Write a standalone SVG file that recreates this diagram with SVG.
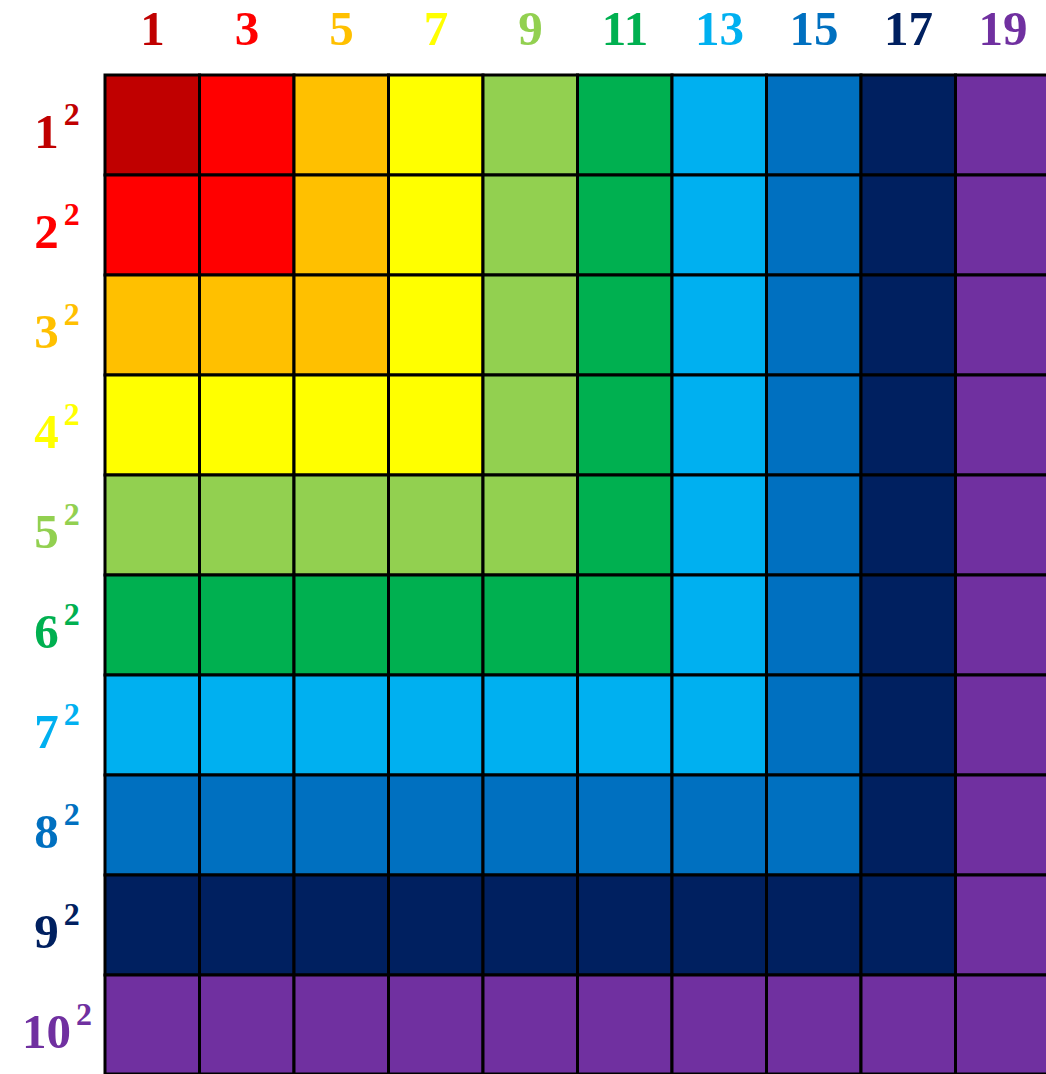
<svg xmlns="http://www.w3.org/2000/svg" width="1046" height="1074" viewBox="0 0 1046 1074">
<style>
text{font-family:"Liberation Serif","DejaVu Serif",serif;font-weight:bold;font-size:49px;text-anchor:middle}
.s{font-size:32px}
.c rect{stroke:#000;stroke-width:3}
.k1{fill:#C00000}.k2{fill:#FF0000}.k3{fill:#FFC000}.k4{fill:#FFFF00}.k5{fill:#92D050}
.k6{fill:#00B050}.k7{fill:#00B0F0}.k8{fill:#0070C0}.k9{fill:#002060}.k10{fill:#7030A0}
</style>
<rect width="1046" height="1074" fill="#fff"/>
<g id="header">
<text id="h1" class="k1" x="152.5" y="45">1</text>
<text id="h3" class="k2" x="247" y="45">3</text>
<text id="h5" class="k3" x="341.5" y="45">5</text>
<text id="h7" class="k4" x="436" y="45">7</text>
<text id="h9" class="k5" x="530.5" y="45">9</text>
<text id="h11" class="k6" x="625" y="45">11</text>
<text id="h13" class="k7" x="719.5" y="45">13</text>
<text id="h15" class="k8" x="814" y="45">15</text>
<text id="h17" class="k9" x="908.5" y="45">17</text>
<text id="h19" class="k10" x="1003" y="45">19</text>
</g>
<g id="rows">
<text id="r1" class="k1" x="57" y="148">1<tspan class="s" dx="5" dy="-23">2</tspan></text>
<text id="r2" class="k2" x="57" y="248">2<tspan class="s" dx="5" dy="-23">2</tspan></text>
<text id="r3" class="k3" x="57" y="348">3<tspan class="s" dx="5" dy="-23">2</tspan></text>
<text id="r4" class="k4" x="57" y="448">4<tspan class="s" dx="5" dy="-23">2</tspan></text>
<text id="r5" class="k5" x="57" y="548">5<tspan class="s" dx="5" dy="-23">2</tspan></text>
<text id="r6" class="k6" x="57" y="648">6<tspan class="s" dx="5" dy="-23">2</tspan></text>
<text id="r7" class="k7" x="57" y="748">7<tspan class="s" dx="5" dy="-23">2</tspan></text>
<text id="r8" class="k8" x="57" y="848">8<tspan class="s" dx="5" dy="-23">2</tspan></text>
<text id="r9" class="k9" x="57" y="948">9<tspan class="s" dx="5" dy="-23">2</tspan></text>
<text id="r10" class="k10" x="57" y="1048">10<tspan class="s" dx="5" dy="-23">2</tspan></text>
</g>
<g id="grid" class="c">
<rect class="k1" x="105" y="75" width="94.5" height="100"/>
<rect class="k2" x="199.5" y="75" width="94.5" height="100"/>
<rect class="k3" x="294" y="75" width="94.5" height="100"/>
<rect class="k4" x="388.5" y="75" width="94.5" height="100"/>
<rect class="k5" x="483" y="75" width="94.5" height="100"/>
<rect class="k6" x="577.5" y="75" width="94.5" height="100"/>
<rect class="k7" x="672" y="75" width="94.5" height="100"/>
<rect class="k8" x="766.5" y="75" width="94.5" height="100"/>
<rect class="k9" x="861" y="75" width="94.5" height="100"/>
<rect class="k10" x="955.5" y="75" width="94.5" height="100"/>

<rect class="k2" x="105" y="175" width="94.5" height="100"/>
<rect class="k2" x="199.5" y="175" width="94.5" height="100"/>
<rect class="k3" x="294" y="175" width="94.5" height="100"/>
<rect class="k4" x="388.5" y="175" width="94.5" height="100"/>
<rect class="k5" x="483" y="175" width="94.5" height="100"/>
<rect class="k6" x="577.5" y="175" width="94.5" height="100"/>
<rect class="k7" x="672" y="175" width="94.5" height="100"/>
<rect class="k8" x="766.5" y="175" width="94.5" height="100"/>
<rect class="k9" x="861" y="175" width="94.5" height="100"/>
<rect class="k10" x="955.5" y="175" width="94.5" height="100"/>

<rect class="k3" x="105" y="275" width="94.5" height="100"/>
<rect class="k3" x="199.5" y="275" width="94.5" height="100"/>
<rect class="k3" x="294" y="275" width="94.5" height="100"/>
<rect class="k4" x="388.5" y="275" width="94.5" height="100"/>
<rect class="k5" x="483" y="275" width="94.5" height="100"/>
<rect class="k6" x="577.5" y="275" width="94.5" height="100"/>
<rect class="k7" x="672" y="275" width="94.5" height="100"/>
<rect class="k8" x="766.5" y="275" width="94.5" height="100"/>
<rect class="k9" x="861" y="275" width="94.5" height="100"/>
<rect class="k10" x="955.5" y="275" width="94.5" height="100"/>

<rect class="k4" x="105" y="375" width="94.5" height="100"/>
<rect class="k4" x="199.5" y="375" width="94.5" height="100"/>
<rect class="k4" x="294" y="375" width="94.5" height="100"/>
<rect class="k4" x="388.5" y="375" width="94.5" height="100"/>
<rect class="k5" x="483" y="375" width="94.5" height="100"/>
<rect class="k6" x="577.5" y="375" width="94.5" height="100"/>
<rect class="k7" x="672" y="375" width="94.5" height="100"/>
<rect class="k8" x="766.5" y="375" width="94.5" height="100"/>
<rect class="k9" x="861" y="375" width="94.5" height="100"/>
<rect class="k10" x="955.5" y="375" width="94.5" height="100"/>

<rect class="k5" x="105" y="475" width="94.5" height="100"/>
<rect class="k5" x="199.5" y="475" width="94.5" height="100"/>
<rect class="k5" x="294" y="475" width="94.5" height="100"/>
<rect class="k5" x="388.5" y="475" width="94.5" height="100"/>
<rect class="k5" x="483" y="475" width="94.5" height="100"/>
<rect class="k6" x="577.5" y="475" width="94.5" height="100"/>
<rect class="k7" x="672" y="475" width="94.5" height="100"/>
<rect class="k8" x="766.5" y="475" width="94.5" height="100"/>
<rect class="k9" x="861" y="475" width="94.5" height="100"/>
<rect class="k10" x="955.5" y="475" width="94.5" height="100"/>

<rect class="k6" x="105" y="575" width="94.5" height="100"/>
<rect class="k6" x="199.5" y="575" width="94.5" height="100"/>
<rect class="k6" x="294" y="575" width="94.5" height="100"/>
<rect class="k6" x="388.5" y="575" width="94.5" height="100"/>
<rect class="k6" x="483" y="575" width="94.5" height="100"/>
<rect class="k6" x="577.5" y="575" width="94.5" height="100"/>
<rect class="k7" x="672" y="575" width="94.5" height="100"/>
<rect class="k8" x="766.5" y="575" width="94.5" height="100"/>
<rect class="k9" x="861" y="575" width="94.5" height="100"/>
<rect class="k10" x="955.5" y="575" width="94.5" height="100"/>

<rect class="k7" x="105" y="675" width="94.5" height="100"/>
<rect class="k7" x="199.5" y="675" width="94.5" height="100"/>
<rect class="k7" x="294" y="675" width="94.5" height="100"/>
<rect class="k7" x="388.5" y="675" width="94.5" height="100"/>
<rect class="k7" x="483" y="675" width="94.5" height="100"/>
<rect class="k7" x="577.5" y="675" width="94.5" height="100"/>
<rect class="k7" x="672" y="675" width="94.5" height="100"/>
<rect class="k8" x="766.5" y="675" width="94.5" height="100"/>
<rect class="k9" x="861" y="675" width="94.5" height="100"/>
<rect class="k10" x="955.5" y="675" width="94.5" height="100"/>

<rect class="k8" x="105" y="775" width="94.5" height="100"/>
<rect class="k8" x="199.5" y="775" width="94.5" height="100"/>
<rect class="k8" x="294" y="775" width="94.5" height="100"/>
<rect class="k8" x="388.5" y="775" width="94.5" height="100"/>
<rect class="k8" x="483" y="775" width="94.5" height="100"/>
<rect class="k8" x="577.5" y="775" width="94.5" height="100"/>
<rect class="k8" x="672" y="775" width="94.5" height="100"/>
<rect class="k8" x="766.5" y="775" width="94.5" height="100"/>
<rect class="k9" x="861" y="775" width="94.5" height="100"/>
<rect class="k10" x="955.5" y="775" width="94.5" height="100"/>

<rect class="k9" x="105" y="875" width="94.5" height="100"/>
<rect class="k9" x="199.5" y="875" width="94.5" height="100"/>
<rect class="k9" x="294" y="875" width="94.5" height="100"/>
<rect class="k9" x="388.5" y="875" width="94.5" height="100"/>
<rect class="k9" x="483" y="875" width="94.5" height="100"/>
<rect class="k9" x="577.5" y="875" width="94.5" height="100"/>
<rect class="k9" x="672" y="875" width="94.5" height="100"/>
<rect class="k9" x="766.5" y="875" width="94.5" height="100"/>
<rect class="k9" x="861" y="875" width="94.5" height="100"/>
<rect class="k10" x="955.5" y="875" width="94.5" height="100"/>

<rect class="k10" x="105" y="975" width="94.5" height="99"/>
<rect class="k10" x="199.5" y="975" width="94.5" height="99"/>
<rect class="k10" x="294" y="975" width="94.5" height="99"/>
<rect class="k10" x="388.5" y="975" width="94.5" height="99"/>
<rect class="k10" x="483" y="975" width="94.5" height="99"/>
<rect class="k10" x="577.5" y="975" width="94.5" height="99"/>
<rect class="k10" x="672" y="975" width="94.5" height="99"/>
<rect class="k10" x="766.5" y="975" width="94.5" height="99"/>
<rect class="k10" x="861" y="975" width="94.5" height="99"/>
<rect class="k10" x="955.5" y="975" width="94.5" height="99"/>
</g>
</svg>
